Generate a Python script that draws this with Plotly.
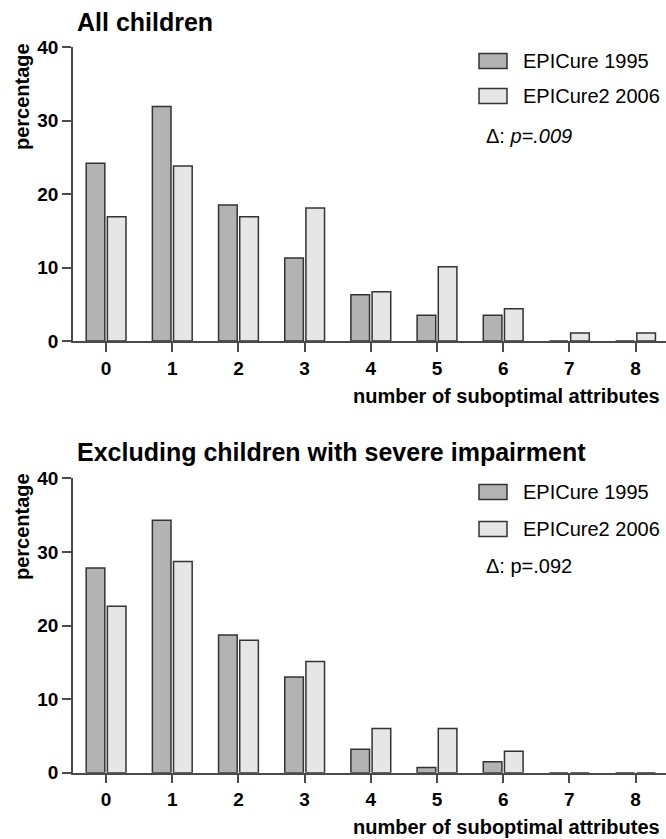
import plotly.graph_objects as go

# ---- data ----
categories = [0, 1, 2, 3, 4, 5, 6, 7, 8]
all_1995 = [24.2, 31.9, 18.5, 11.3, 6.3, 3.5, 3.5, 0, 0]
all_2006 = [16.9, 23.8, 16.9, 18.1, 6.7, 10.1, 4.4, 1.1, 1.1]
excl_1995 = [27.8, 34.3, 18.7, 13.0, 3.2, 0.7, 1.5, 0, 0]
excl_2006 = [22.6, 28.7, 18.0, 15.1, 6.0, 6.0, 2.9, 0, 0]
series_names = ["EPICure 1995", "EPICure2 2006"]
panel_titles = ["All children", "Excluding children with severe impairment"]
p_texts = ["Δ: <i>p=.009</i>", "Δ: p=.092"]
y_ticks = [0, 10, 20, 30, 40]
x_title = "number of suboptimal attributes"
y_title = "percentage"

W, H = 666, 839
FONT = "Liberation Sans, Arial, sans-serif"
colors = ["#b3b3b3", "#e6e6e6"]
edge = "#333333"
axcol = "#4a4a4a"


def py(px):
    return 1 - px / H


def pxx(px):
    # x paper coordinate with left margin 73
    return (px - 73) / (W - 73)


fig = go.Figure()
panels = [(all_1995, all_2006), (excl_1995, excl_2006)]
for i, (a, b) in enumerate(panels):
    xa = "x" if i == 0 else "x2"
    ya = "y" if i == 0 else "y2"
    for j, vals in enumerate((a, b)):
        fig.add_trace(go.Bar(
            x=categories, y=vals, name=series_names[j], xaxis=xa, yaxis=ya,
            marker=dict(color=colors[j], line=dict(color=edge, width=1.5)),
            showlegend=False, offsetgroup=str(j),
        ))

axis_common = dict(showline=True, linecolor=axcol, linewidth=1.5, ticks="outside",
                   ticklen=9, tickwidth=1.5, tickcolor=axcol, showgrid=False, zeroline=False,
                   automargin=False,
                   tickfont=dict(family=FONT, size=19, color="black", weight="bold"))

domains = [[py(341), py(47)], [py(772.7), py(478.3)]]

fig.update_layout(
    width=W, height=H, plot_bgcolor="white", paper_bgcolor="white",
    margin=dict(l=73, r=0, t=0, b=0, autoexpand=False),
    barmode="group", bargap=0.36, bargroupgap=0.12,
    showlegend=False,
    xaxis=dict(domain=[0, 1], anchor="y", range=[-0.5, 8.46], tickvals=categories, **axis_common),
    yaxis=dict(domain=domains[0], anchor="x", range=[0, 40], tickvals=y_ticks, **axis_common),
    xaxis2=dict(domain=[0, 1], anchor="y2", range=[-0.5, 8.46], tickvals=categories, **axis_common),
    yaxis2=dict(domain=domains[1], anchor="x2", range=[0, 40], tickvals=y_ticks, **axis_common),
)

annotations = []
shapes = []
# per-panel text positions (pixel, from top)
title_y = [22, 452]
ylab_y = [97, 527]
xlab_y = [396, 827]
leg_y = [[61, 96], [492, 529]]
p_y = [136, 566]

for i in range(2):
    annotations.append(dict(text=panel_titles[i], xref="paper", yref="paper",
                            x=pxx(75), y=py(title_y[i]), xanchor="left", yanchor="middle",
                            showarrow=False, font=dict(family=FONT, size=25, color="black", weight="bold")))
    annotations.append(dict(text=y_title, xref="paper", yref="paper", textangle=-90,
                            x=pxx(22), y=py(ylab_y[i]), xanchor="center", yanchor="middle",
                            showarrow=False, font=dict(family=FONT, size=20, color="black", weight="bold")))
    annotations.append(dict(text=x_title, xref="paper", yref="paper",
                            x=pxx(662), y=py(xlab_y[i]), xanchor="right", yanchor="middle",
                            showarrow=False, font=dict(family=FONT, size=20, color="black", weight="bold")))
    for j in range(2):
        cy = leg_y[i][j]
        shapes.append(dict(type="rect", xref="paper", yref="paper",
                           x0=pxx(479), x1=pxx(507), y0=py(cy - 7.5), y1=py(cy + 7.5),
                           fillcolor=colors[j], line=dict(color=edge, width=1.5)))
        annotations.append(dict(text=series_names[j], xref="paper", yref="paper",
                                x=pxx(521), y=py(cy), xanchor="left", yanchor="middle",
                                showarrow=False, font=dict(family=FONT, size=20, color="black")))
    annotations.append(dict(text=p_texts[i], xref="paper", yref="paper",
                            x=pxx(484), y=py(p_y[i]), xanchor="left", yanchor="middle",
                            showarrow=False, font=dict(family=FONT, size=20, color="black")))

fig.update_layout(annotations=annotations, shapes=shapes)
fig.write_html("out.html", config={"displayModeBar": False},
               post_script="document.body.style.margin='0';document.body.style.overflow='hidden';")
